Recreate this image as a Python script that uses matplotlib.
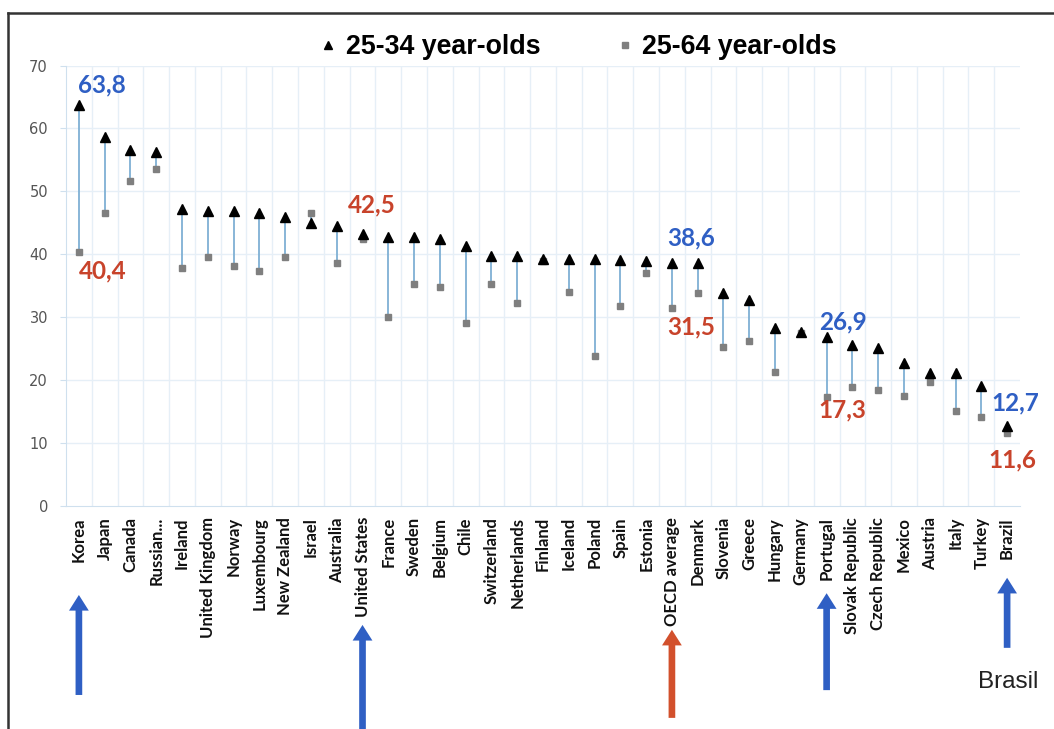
import numpy as np
import matplotlib
matplotlib.use("Agg")
import matplotlib.pyplot as plt
from matplotlib.lines import Line2D
from matplotlib.patches import ArrowStyle

# Data
countries = ["Korea", "Japan", "Canada", "Russian...", "Ireland", "United Kingdom", "Norway",
             "Luxembourg", "New Zealand", "Israel", "Australia", "United States", "France",
             "Sweden", "Belgium", "Chile", "Switzerland", "Netherlands", "Finland", "Iceland",
             "Poland", "Spain", "Estonia", "OECD average", "Denmark", "Slovenia", "Greece",
             "Hungary", "Germany", "Portugal", "Slovak Republic", "Czech Republic", "Mexico",
             "Austria", "Italy", "Turkey", "Brazil"]
young = [63.8, 58.7, 56.5, 56.3, 47.2, 46.8, 46.8, 46.6, 46.0, 45.0, 44.5, 43.2, 42.8,
         42.8, 42.4, 41.3, 39.7, 39.7, 39.3, 39.3, 39.2, 39.1, 39.0, 38.6, 38.6, 33.9, 32.7,
         28.3, 27.7, 26.9, 25.6, 25.1, 22.7, 21.1, 21.1, 19.0, 12.7]
all_adults = [40.4, 46.6, 51.6, 53.6, 37.9, 39.5, 38.2, 37.3, 39.5, 46.6, 38.6, 42.5, 30.0,
              35.3, 34.8, 29.1, 35.3, 32.2, 39.0, 34.0, 23.8, 31.8, 37.0, 31.5, 33.9, 25.3, 26.2,
              21.3, 27.5, 17.3, 18.9, 18.4, 17.5, 19.7, 15.1, 14.1, 11.6]

# highlighted values: (country, series, colour, offset in points, alignment)
blue = "#2f5fc4"
red = "#c8432b"
highlights = [
    ("Korea", "young", blue, (-1, 14), "left"),
    ("Korea", "all", red, (0, -14), "left"),
    ("United States", "all", red, (6.5, 24), "center"),
    ("OECD average", "young", blue, (14, 18), "center"),
    ("OECD average", "all", red, (14, -14), "center"),
    ("Portugal", "young", blue, (11.5, 11), "center"),
    ("Portugal", "all", red, (11.5, -9), "center"),
    ("Brazil", "young", blue, (6, 16.5), "center"),
    ("Brazil", "all", red, (3.6, -19.5), "center"),
]
arrows = [("Korea", blue, -0.202, -0.429), ("United States", blue, -0.270, -0.54),
          ("OECD average", "#d2502c", -0.281, -0.481), ("Portugal", blue, -0.198, -0.418),
          ("Brazil", blue, -0.163, -0.322)]

x = np.arange(len(countries))

fig = plt.figure(figsize=(10.54, 7.29), dpi=100)
ax = fig.add_axes([66 / 1054, 1 - 506 / 729, 954 / 1054, 440.5 / 729])

ax.vlines(x, all_adults, young, color="#7fb0d4", lw=1.3, zorder=2)
ax.plot(x, all_adults, "s", color="#7f7f7f", ms=5, zorder=3)
ax.plot(x, young, "^", color="black", ms=7, zorder=4)

ax.set_xlim(-0.5, len(countries) - 0.5)
ax.set_ylim(0, 70)
ax.set_yticks(np.arange(0, 71, 10))
ax.set_xticks(x)
ax.set_xticklabels(countries, rotation=90, fontsize=12, family="Lato",
                   fontweight="bold", color="#111111")
ax.tick_params(axis="x", length=0, pad=8)
ax.tick_params(axis="y", length=4, color="#cfe0ee", pad=9, labelsize=10.5, labelcolor="#555555")

# faint grid: horizontal at each ten, vertical between categories
for v in np.arange(10, 71, 10):
    ax.axhline(v, color="#e6eff7", lw=1, zorder=0)
for b in np.arange(0.5, len(countries) - 0.5, 1):
    ax.axvline(b, color="#e6eff7", lw=1, zorder=0)
for s in ["top", "right"]:
    ax.spines[s].set_visible(False)
ax.spines["left"].set_color("#cfe0ee")
ax.spines["bottom"].set_color("#cfe0ee")

for name, series, col, off, ha in highlights:
    i = countries.index(name)
    val = young[i] if series == "young" else all_adults[i]
    ax.annotate(f"{val:.1f}".replace(".", ","), xy=(i, val), xytext=off,
                textcoords="offset points", ha=ha, va="center", color=col,
                fontsize=17.5, family="Lato", fontweight="bold")

tr = ax.get_xaxis_transform()
style = ArrowStyle.Simple(head_length=0.75, head_width=0.95, tail_width=0.32)
for name, col, tip, tail in arrows:
    i = countries.index(name)
    ax.annotate("", xy=(i, tip), xycoords=tr, xytext=(i, tail), textcoords=tr,
                arrowprops=dict(arrowstyle=style, mutation_scale=15, color=col, lw=0,
                                shrinkA=0, shrinkB=0), annotation_clip=False)
ax.text(countries.index("Brazil") + 0.05, -0.40, "Brasil", transform=tr, ha="center",
        va="center", fontsize=17.5, family="Liberation Sans", color="#222222")

handles = [Line2D([], [], marker="^", ls="none", color="black", ms=6),
           Line2D([], [], marker="s", ls="none", color="#7f7f7f", ms=4.5)]
fig.legend(handles, ["25-34 year-olds", "25-64 year-olds"], ncol=2, frameon=False,
           loc="center", bbox_to_anchor=(0.549, 1 - 47 / 729), handlelength=0.6,
           handletextpad=0.35, columnspacing=2.85,
           prop=dict(family="Liberation Sans", weight="bold", size=19.3))

# outer frame of the picture
fig.add_artist(Line2D([8 / 1054, 8 / 1054], [0, 1 - 13 / 729], color="#333333", lw=1.8))
fig.add_artist(Line2D([8 / 1054, 1], [1 - 13 / 729, 1 - 13 / 729], color="#333333", lw=1.8))

fig.savefig("out.png", dpi=100)
